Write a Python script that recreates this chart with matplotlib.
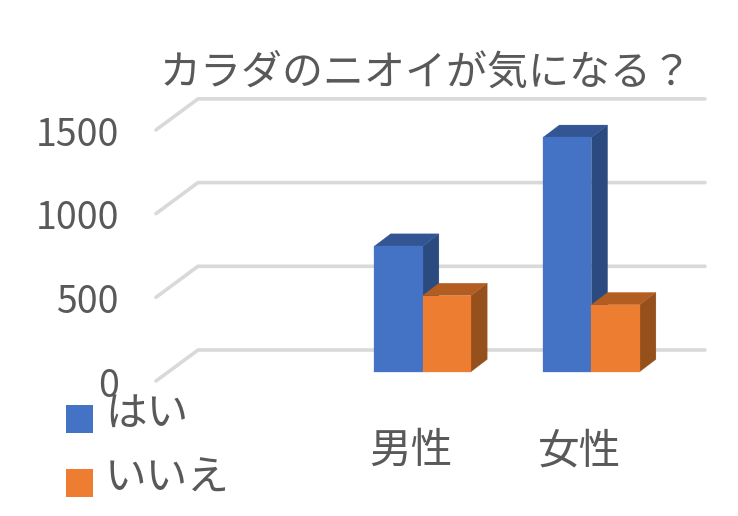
import matplotlib
matplotlib.use('Agg')
import matplotlib.pyplot as plt
from matplotlib.patches import Polygon, Rectangle

plt.rcParams['font.family'] = ['Noto Sans CJK JP', 'DejaVu Sans']

# datos
title = 'カラダのニオイが気になる？'
categories = ['', '男性', '女性']
series_names = ['はい', 'いいえ']
hai = [0, 750, 1400]
iie = [0, 455, 400]
y_ticks = [0, 500, 1000, 1500]

TEXT = '#595959'
GRID = '#d9d9d9'
colors = [('#4472c4', '#335593', '#2b4a80'), ('#ed7d31', '#b35d23', '#96501c')]

W, H = 738, 516
fig = plt.figure(figsize=(W / 100, H / 100), dpi=100)
ax = fig.add_axes([0, 0, 1, 1])
ax.axis('off')

# escala: pixeles por unidad
px_x = 168.7
px_y = 83.7 / 500
x0_px, y0_px = 422.7 - 168.7, 371.7  # categoria 0, valor 0
ax.set_xlim(-x0_px / px_x, (W - x0_px) / px_x)
ax.set_ylim(-(H - y0_px) / px_y, y0_px / px_y)

def dx(p):
    return p / px_x

def dy(p):
    return p / px_y

# rejilla con profundidad
for v in y_ticks:
    xs = [dx(156 - x0_px), dx(198 - x0_px), dx(705 - x0_px)]
    ys = [v - dy(9.3), v + dy(21.7), v + dy(21.7)]
    ax.plot(xs, ys, color=GRID, lw=2.6, solid_joinstyle='miter', solid_capstyle='round', zorder=1)
    ax.text(dx(119 - x0_px), v + dy(-3.5 - 11), str(v), color=TEXT, fontsize=27,
            ha='right', va='center', zorder=6)

# barras 3D
def bar3d(x, w, v, cols, z):
    d_x, d_y = dx(16.2), dy(12.3)
    front, top, side = cols
    ax.add_patch(Polygon([(x + w, 0), (x + w + d_x, d_y), (x + w + d_x, v + d_y), (x + w, v)],
                         fc=side, ec=side, lw=0.2, zorder=z))
    ax.add_patch(Polygon([(x, v), (x + d_x, v + d_y), (x + w + d_x, v + d_y), (x + w, v)],
                         fc=top, ec=top, lw=0.2, zorder=z))
    ax.add_patch(Rectangle((x, 0), w, v, fc=front, ec=front, lw=0.2, zorder=z + 0.1))

bw = 48.3 / px_x
for i in range(1, len(categories)):
    bar3d(i - bw, bw, hai[i], colors[0], 3)
    bar3d(i, bw, iie[i], colors[1], 4)
    ax.text(i - dx(12), dy(-80), categories[i], color=TEXT, fontsize=30, ha='center', va='center')

# leyenda
for name, cols, py in zip(series_names, colors, [419, 483]):
    ax.add_patch(Rectangle((dx(66 - x0_px), dy(y0_px - py - 14)), dx(27), dy(28),
                           fc=cols[0], ec='none', zorder=5))
    ax.text(dx(105 - x0_px), dy(y0_px - py + 4), name, color=TEXT, fontsize=30,
            ha='left', va='center', zorder=6)

ax.text(dx(426 - x0_px), dy(y0_px - 73), title, color=TEXT, fontsize=29.5, ha='center', va='center')

fig.savefig('out.png', dpi=100)
plt.close(fig)
